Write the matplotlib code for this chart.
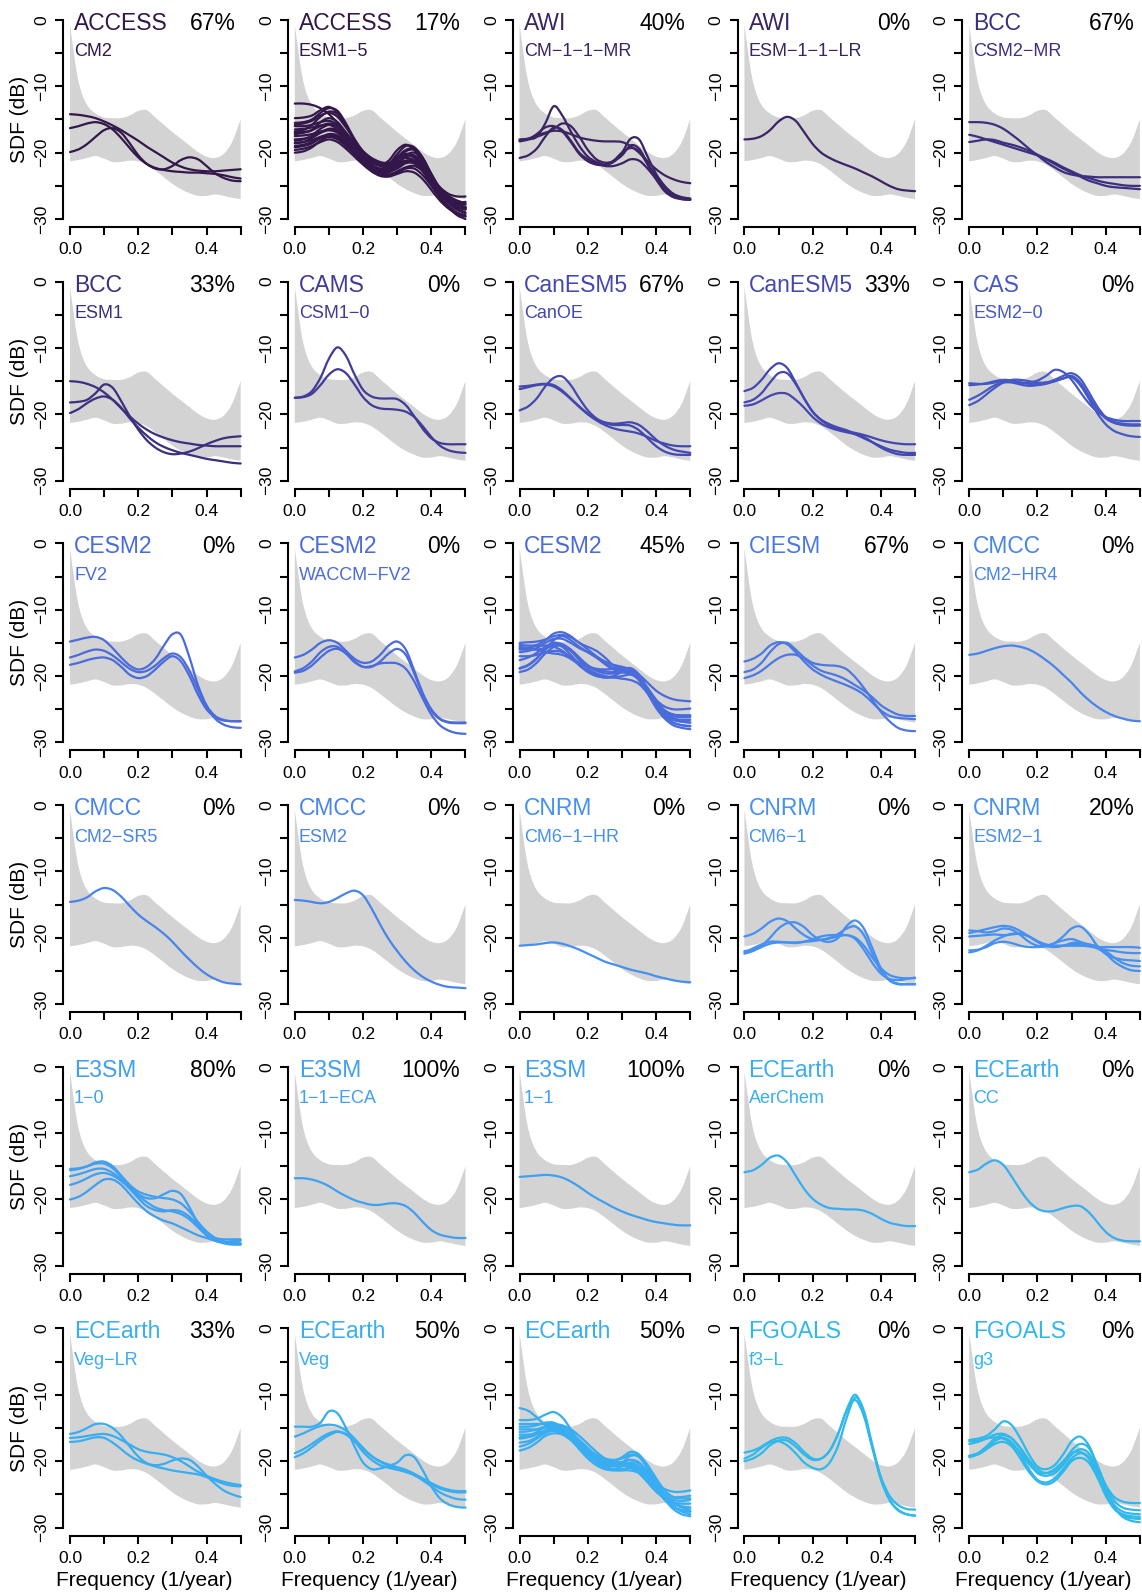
import numpy as np
import matplotlib as mpl
mpl.use('Agg')
import matplotlib.pyplot as plt
from matplotlib.path import Path
from matplotlib.patches import PathPatch

# spectral density (dB) of each run, sampled every 0.025 cycles/year
freq = np.linspace(0, 0.5, 21)

# observed envelope
band_upper_freq = [0, .01, .02, .03, .04, .05, .075, .1, .125, .15, .175, .2, .225,
                   .25, .275, .3, .325, .35, .375, .4, .425, .45, .475, .5]
band_upper = [-0.8, -4.5, -8.0, -10.3, -11.8, -12.8, -14.1, -14.7, -14.8, -14.8, -14.4, -13.7,
              -13.6, -14.7, -15.8, -16.9, -17.9, -18.9, -19.9, -20.6, -20.8, -20.2, -18.4, -15.0]
band_lower = [-21.3, -21.1, -20.8, -20.5, -20.9, -21.4, -21.4, -21.2, -21.3, -21.8, -22.7,
              -23.7, -24.7, -25.5, -26.1, -26.5, -26.5, -26.3, -26.5, -26.8, -27.0]

models = ["ACCESS", "ACCESS", "AWI", "AWI", "BCC",
          "BCC", "CAMS", "CanESM5", "CanESM5", "CAS",
          "CESM2", "CESM2", "CESM2", "CIESM", "CMCC",
          "CMCC", "CMCC", "CNRM", "CNRM", "CNRM",
          "E3SM", "E3SM", "E3SM", "ECEarth", "ECEarth",
          "ECEarth", "ECEarth", "ECEarth", "FGOALS", "FGOALS"]
variants = ["CM2", "ESM1\u22125", "CM\u22121\u22121\u2212MR", "ESM\u22121\u22121\u2212LR", "CSM2\u2212MR",
            "ESM1", "CSM1\u22120", "CanOE", "", "ESM2\u22120",
            "FV2", "WACCM\u2212FV2", "", "", "CM2\u2212HR4",
            "CM2\u2212SR5", "ESM2", "CM6\u22121\u2212HR", "CM6\u22121", "ESM2\u22121",
            "1\u22120", "1\u22121\u2212ECA", "1\u22121", "AerChem", "CC",
            "Veg\u2212LR", "Veg", "", "f3\u2212L", "g3"]
percents = [67, 17, 40, 0, 67,
            33, 0, 67, 33, 0,
            0, 0, 45, 67, 0,
            0, 0, 0, 0, 20,
            80, 100, 100, 0, 0,
            33, 50, 50, 0, 0]

family_colors = {
    "ACCESS": "#33174a", "AWI": "#3b2464", "BCC": "#3e2e80", "CAMS": "#403a98",
    "CanESM5": "#4347b0", "CAS": "#4658c6", "CESM2": "#4a6bdb", "CIESM": "#4b78e3",
    "CMCC": "#4884ec", "CNRM": "#4590f0", "E3SM": "#3f9ff2", "ECEarth": "#38adf2",
    "FGOALS": "#2fb8eb",
}

access_cm2 = [
    [-14.2, -14.3, -14.5, -14.8, -15.3, -15.9, -16.6, -17.4, -18.2, -19.1, -19.9, -20.7, -21.5, -22.1, -22.5, -22.7, -22.8, -22.8, -22.7, -22.6, -22.5],
    [-16.3, -16.0, -15.6, -15.4, -15.7, -16.5, -17.8, -19.3, -20.7, -21.7, -22.3, -22.6, -22.8, -22.9, -23.0, -23.0, -23.1, -23.2, -23.4, -23.7, -23.9],
    [-19.9, -19.5, -18.7, -17.6, -16.6, -16.3, -17.0, -18.6, -20.4, -21.7, -22.4, -22.5, -22.0, -21.1, -20.7, -21.0, -22.0, -23.1, -23.8, -24.2, -24.3],
]
access_esm1_5 = [
    [-12.6, -12.6, -12.8, -13.3, -14.2, -15.5, -17.0, -18.5, -19.8, -20.8, -21.4, -21.6, -21.4, -21.3, -21.6, -22.6, -24.0, -25.4, -26.5, -27.2, -27.6],
    [-14.8, -14.7, -14.4, -13.6, -13.1, -14.0, -16.0, -18.2, -20.0, -21.2, -21.8, -21.2, -19.6, -18.8, -19.6, -21.5, -23.5, -25.3, -26.6, -27.4, -27.8],
    [-15.5, -15.4, -15.0, -14.0, -13.3, -13.7, -15.6, -18.0, -20.0, -21.3, -21.8, -21.6, -20.6, -19.6, -19.4, -20.8, -23.2, -25.4, -26.9, -27.8, -28.2],
    [-16.0, -16.0, -15.8, -15.4, -15.2, -15.8, -17.2, -18.8, -20.3, -21.4, -22.0, -22.0, -21.4, -20.8, -21.2, -22.6, -24.4, -26.0, -27.2, -28.0, -28.5],
    [-16.5, -16.4, -16.2, -15.9, -15.8, -16.4, -17.6, -19.2, -20.8, -22.0, -22.6, -22.6, -22.0, -21.3, -21.4, -22.6, -24.4, -26.2, -27.6, -28.6, -29.1],
    [-17.0, -16.9, -16.6, -16.0, -15.6, -16.0, -17.4, -19.2, -20.9, -22.0, -22.5, -22.2, -21.0, -20.2, -20.6, -22.2, -24.2, -26.0, -27.4, -28.2, -28.6],
    [-17.5, -17.4, -17.2, -16.8, -16.6, -17.0, -18.2, -19.8, -21.4, -22.6, -23.2, -23.3, -22.8, -22.2, -22.0, -22.8, -24.6, -26.6, -28.2, -29.4, -30.0],
    [-18.0, -17.9, -17.6, -17.0, -16.6, -16.8, -17.8, -19.4, -21.0, -22.2, -22.8, -22.6, -21.6, -20.6, -20.4, -21.6, -23.8, -25.8, -27.0, -27.6, -27.8],
    [-18.5, -18.4, -18.1, -17.6, -17.3, -17.6, -18.6, -20.0, -21.5, -22.8, -23.4, -23.5, -23.0, -22.4, -22.4, -23.4, -25.0, -26.8, -28.2, -29.2, -29.6],
    [-19.0, -18.8, -18.4, -17.8, -17.6, -18.0, -19.0, -20.2, -21.4, -22.4, -22.8, -22.6, -21.6, -20.4, -20.0, -21.0, -23.2, -25.4, -27.0, -28.0, -28.4],
    [-19.6, -19.4, -19.0, -18.4, -18.0, -18.4, -19.4, -20.6, -21.8, -22.8, -23.5, -23.6, -23.2, -22.8, -23.0, -24.0, -25.6, -27.2, -28.4, -29.2, -29.6],
    [-20.0, -19.8, -19.2, -18.2, -17.6, -17.8, -18.8, -20.2, -21.6, -22.6, -23.2, -23.0, -22.2, -21.4, -21.4, -22.6, -24.6, -26.4, -27.4, -27.6, -27.4],
    [-16.8, -16.6, -15.8, -14.6, -13.8, -14.2, -16.0, -18.2, -20.2, -21.4, -21.9, -21.6, -20.8, -20.2, -20.5, -21.8, -23.6, -25.2, -26.2, -26.6, -26.6],
    [-18.2, -18.0, -17.4, -16.4, -15.8, -16.0, -17.2, -18.8, -20.6, -21.8, -22.4, -22.4, -21.8, -21.2, -21.2, -22.2, -24.0, -25.8, -27.2, -28.0, -28.2],
    [-17.2, -17.0, -16.6, -15.4, -14.8, -15.4, -17.0, -18.8, -20.6, -21.8, -22.4, -21.8, -20.2, -19.0, -19.2, -20.8, -23.4, -25.6, -27.0, -27.8, -28.2],
    [-19.2, -19.0, -18.6, -17.8, -17.2, -17.4, -18.4, -19.8, -21.2, -22.4, -23.0, -22.6, -21.0, -19.8, -19.6, -21.0, -23.6, -25.8, -27.2, -28.0, -28.4],
    [-15.8, -15.6, -15.2, -14.4, -14.0, -14.6, -16.2, -18.0, -19.8, -21.0, -21.6, -21.6, -21.0, -20.4, -20.8, -22.2, -24.2, -26.0, -27.4, -28.4, -29.0],
    [-18.6, -18.4, -17.8, -17.0, -16.4, -16.6, -17.6, -19.0, -20.6, -21.8, -22.6, -22.8, -22.4, -21.6, -21.6, -22.8, -24.8, -26.6, -28.0, -29.0, -29.4],
]
awi_cm = [
    [-18.1, -18.0, -17.6, -15.6, -13.0, -14.4, -16.8, -19.0, -20.6, -21.4, -21.8, -21.4, -20.0, -17.9, -18.0, -20.6, -23.2, -25.0, -26.2, -26.8, -27.0],
    [-18.0, -17.9, -17.6, -17.1, -16.4, -15.6, -16.0, -17.6, -19.6, -21.0, -21.5, -21.3, -20.4, -18.9, -19.4, -21.6, -23.6, -25.2, -26.2, -26.7, -26.9],
    [-20.8, -20.4, -19.4, -17.6, -16.2, -16.6, -18.2, -20.0, -21.0, -21.6, -22.0, -22.0, -21.6, -21.0, -21.2, -22.4, -24.0, -25.6, -26.5, -27.0, -27.1],
    [-18.2, -17.9, -17.4, -17.0, -16.7, -16.8, -17.2, -17.7, -18.0, -18.2, -18.3, -18.3, -18.4, -19.0, -20.0, -21.3, -22.5, -23.4, -24.0, -24.4, -24.6],
    [-18.3, -18.0, -17.2, -16.2, -16.0, -16.8, -18.4, -20.2, -21.3, -21.8, -21.8, -21.2, -20.0, -19.3, -19.8, -21.8, -24.0, -25.8, -26.7, -27.0, -27.1],
]
awi_esm = [
    [-18.0, -17.9, -17.5, -16.6, -15.3, -14.6, -15.2, -16.9, -18.7, -20.0, -20.8, -21.4, -21.9, -22.4, -23.0, -23.6, -24.3, -25.0, -25.5, -25.7, -25.8],
]
bcc_csm2 = [
    [-15.4, -15.4, -15.5, -15.8, -16.4, -17.3, -18.3, -19.4, -20.4, -21.4, -22.2, -22.9, -23.3, -23.5, -23.6, -23.7, -23.7, -23.7, -23.7, -23.7, -23.7],
    [-17.3, -17.6, -18.0, -18.4, -18.8, -19.2, -19.6, -20.0, -20.4, -20.9, -21.5, -22.2, -22.8, -23.4, -23.8, -24.2, -24.5, -24.7, -24.9, -25.0, -25.0],
    [-18.4, -18.2, -18.0, -18.1, -18.5, -18.8, -19.2, -19.7, -20.3, -21.0, -21.7, -22.4, -23.0, -23.6, -24.2, -24.6, -25.0, -25.2, -25.3, -25.4, -25.5],
]
bcc_esm1 = [
    [-15.0, -15.1, -15.4, -15.9, -16.7, -17.8, -19.1, -20.3, -21.4, -22.3, -23.0, -23.5, -23.9, -24.2, -24.4, -24.6, -24.7, -24.8, -24.8, -24.8, -24.8],
    [-18.2, -18.1, -17.8, -16.8, -15.5, -16.0, -18.0, -20.3, -22.3, -23.9, -25.0, -25.7, -26.0, -25.9, -25.6, -25.1, -24.5, -24.0, -23.6, -23.4, -23.3],
    [-19.8, -19.2, -18.3, -17.6, -17.3, -17.8, -19.0, -20.6, -22.0, -23.2, -24.2, -24.9, -25.4, -25.8, -26.1, -26.4, -26.7, -26.9, -27.1, -27.3, -27.4],
]
cams_csm1 = [
    [-17.5, -17.3, -16.5, -14.5, -11.6, -9.9, -11.2, -14.0, -16.3, -17.3, -17.6, -17.6, -17.7, -18.6, -20.3, -22.2, -23.6, -24.3, -24.5, -24.5, -24.5],
    [-17.5, -17.4, -16.9, -15.6, -14.0, -13.2, -13.8, -15.5, -17.4, -18.6, -19.1, -19.2, -19.3, -19.6, -20.4, -21.8, -23.4, -24.7, -25.4, -25.7, -25.8],
]
canesm5_canoe = [
    [-15.8, -15.7, -15.5, -15.4, -15.6, -16.4, -17.6, -18.8, -19.9, -20.7, -21.2, -21.4, -21.3, -21.2, -21.6, -22.6, -23.8, -24.7, -25.3, -25.6, -25.8],
    [-16.2, -15.9, -15.6, -15.5, -15.8, -16.6, -17.7, -18.9, -20.0, -20.9, -21.6, -22.1, -22.4, -22.6, -22.9, -23.4, -24.0, -24.4, -24.7, -24.8, -24.8],
    [-19.4, -18.8, -17.6, -15.8, -14.5, -14.3, -15.6, -17.6, -19.4, -20.6, -21.3, -21.6, -21.6, -21.7, -22.4, -23.6, -24.8, -25.6, -26.0, -26.1, -26.1],
]
canesm5 = [
    [-16.5, -16.0, -14.8, -13.2, -12.3, -13.0, -15.2, -17.6, -19.6, -20.9, -21.7, -22.2, -22.5, -22.8, -23.1, -23.5, -23.9, -24.2, -24.4, -24.5, -24.5],
    [-18.2, -17.8, -16.8, -15.2, -13.8, -13.8, -15.4, -17.6, -19.6, -20.8, -21.5, -22.0, -22.4, -23.0, -23.6, -24.2, -24.8, -25.3, -25.6, -25.8, -25.8],
    [-18.7, -18.5, -17.9, -17.2, -16.8, -16.9, -17.8, -19.0, -20.4, -21.4, -22.0, -22.4, -22.7, -23.0, -23.4, -24.2, -25.0, -25.6, -26.0, -26.1, -26.1],
]
cas_esm2 = [
    [-15.3, -15.4, -15.4, -15.2, -15.0, -15.0, -15.2, -15.2, -14.9, -14.2, -13.3, -13.6, -14.8, -16.6, -18.3, -19.6, -20.4, -20.8, -21.0, -21.0, -21.0],
    [-15.6, -15.5, -15.3, -15.0, -14.8, -14.9, -15.2, -15.4, -15.4, -15.2, -14.8, -14.2, -13.8, -14.6, -16.6, -18.8, -20.4, -21.1, -21.4, -21.5, -21.5],
    [-17.8, -17.2, -16.4, -15.6, -15.2, -15.2, -15.5, -15.7, -15.6, -15.4, -15.0, -14.6, -14.4, -15.6, -17.6, -19.8, -21.5, -22.5, -23.0, -23.3, -23.4],
    [-18.6, -18.0, -17.0, -16.0, -15.2, -14.8, -14.8, -15.0, -15.2, -15.2, -15.0, -14.6, -14.2, -15.2, -17.2, -19.2, -20.6, -21.3, -21.6, -21.7, -21.7],
]
cesm2_fv2 = [
    [-14.8, -14.5, -14.2, -14.1, -14.6, -15.8, -17.2, -18.4, -19.0, -18.6, -17.4, -15.4, -13.7, -13.8, -17.2, -21.4, -24.4, -26.0, -26.6, -26.8, -26.8],
    [-17.2, -16.8, -16.3, -16.0, -16.2, -16.9, -17.9, -18.9, -19.4, -19.2, -18.4, -17.3, -16.6, -17.2, -19.2, -22.0, -24.6, -26.4, -27.3, -27.7, -27.8],
    [-18.3, -18.0, -17.6, -17.3, -17.2, -17.6, -18.6, -19.8, -20.3, -20.0, -19.0, -17.8, -17.0, -17.8, -20.0, -22.8, -25.0, -26.2, -26.7, -26.8, -26.8],
]
cesm2_waccm_fv2 = [
    [-17.2, -16.8, -16.0, -15.0, -14.6, -15.0, -16.2, -17.4, -18.0, -17.8, -16.8, -15.4, -14.8, -16.0, -19.2, -22.6, -25.0, -26.4, -26.9, -27.0, -27.0],
    [-19.3, -18.8, -17.8, -16.4, -15.6, -15.6, -16.6, -17.9, -18.6, -18.5, -18.1, -18.0, -18.1, -18.9, -20.8, -23.4, -25.8, -27.4, -28.2, -28.6, -28.7],
    [-19.5, -19.2, -18.4, -17.2, -16.2, -15.9, -16.6, -17.8, -18.6, -18.6, -17.8, -16.6, -15.9, -16.8, -19.6, -22.8, -25.2, -26.5, -27.0, -27.1, -27.1],
]
cesm2 = [
    [-15.0, -14.9, -14.8, -14.5, -14.0, -13.8, -14.2, -15.0, -16.0, -17.0, -17.8, -18.3, -18.6, -19.0, -19.8, -21.0, -22.2, -23.0, -23.5, -23.7, -23.8],
    [-15.3, -15.4, -15.3, -14.6, -13.6, -13.4, -14.0, -15.0, -15.6, -16.2, -17.2, -18.4, -19.0, -19.4, -20.4, -22.0, -23.6, -24.6, -25.0, -25.0, -24.9],
    [-15.8, -15.7, -15.5, -15.4, -15.6, -16.2, -17.2, -18.0, -18.6, -18.9, -19.0, -18.9, -18.8, -19.2, -20.4, -22.2, -24.0, -25.2, -25.8, -26.0, -26.0],
    [-16.4, -16.2, -15.8, -15.0, -14.4, -14.4, -15.0, -15.8, -16.4, -17.2, -18.2, -19.0, -19.4, -19.6, -20.4, -22.0, -24.0, -25.6, -26.4, -26.6, -26.6],
    [-15.6, -15.8, -16.0, -16.4, -16.6, -16.8, -17.4, -18.3, -19.2, -19.8, -20.2, -20.2, -20.0, -19.8, -20.4, -21.8, -23.6, -25.2, -26.2, -26.8, -27.0],
    [-17.6, -17.2, -16.5, -15.6, -15.0, -15.2, -16.0, -17.2, -18.4, -19.2, -19.6, -19.6, -19.4, -19.6, -20.6, -22.4, -24.4, -26.0, -27.0, -27.4, -27.5],
    [-18.9, -18.4, -17.4, -16.0, -14.6, -14.0, -14.6, -15.6, -16.4, -17.2, -18.0, -18.8, -19.2, -19.6, -20.6, -22.6, -24.8, -26.4, -27.4, -27.8, -28.0],
    [-19.4, -19.0, -18.0, -16.6, -15.6, -15.4, -16.2, -17.6, -18.8, -19.6, -20.0, -20.2, -20.4, -20.6, -21.2, -22.6, -24.4, -26.0, -27.0, -27.4, -27.6],
    [-18.8, -18.3, -17.3, -16.0, -15.2, -15.6, -16.8, -18.2, -19.2, -19.8, -20.2, -20.0, -19.2, -18.8, -19.8, -22.0, -24.2, -25.8, -26.6, -26.9, -27.0],
    [-16.0, -16.0, -16.0, -15.8, -15.4, -15.4, -16.2, -17.4, -18.4, -19.0, -19.3, -19.4, -19.4, -19.6, -20.6, -22.4, -24.2, -25.4, -26.0, -26.2, -26.2],
    [-17.0, -17.0, -16.8, -16.4, -16.2, -16.4, -17.2, -18.4, -19.4, -20.0, -20.2, -20.0, -19.4, -19.2, -20.0, -21.8, -23.8, -25.2, -25.8, -25.9, -25.9],
]
ciesm = [
    [-17.8, -17.4, -16.6, -15.4, -14.9, -15.2, -16.4, -17.8, -19.0, -19.8, -20.4, -20.9, -21.4, -22.0, -22.8, -24.0, -25.2, -26.0, -26.3, -26.4, -26.5],
    [-19.4, -19.0, -18.0, -16.4, -15.2, -15.0, -16.0, -17.2, -18.0, -18.3, -18.4, -18.5, -19.0, -20.2, -21.8, -23.6, -25.4, -26.8, -27.8, -28.2, -28.3],
    [-20.3, -19.9, -19.2, -18.2, -17.3, -16.8, -16.8, -17.4, -18.4, -19.2, -19.6, -20.0, -20.6, -21.4, -22.2, -23.2, -24.4, -25.2, -25.8, -26.0, -26.0],
]
cmcc_cm2_hr4 = [
    [-16.8, -16.6, -16.2, -15.8, -15.5, -15.4, -15.6, -16.0, -16.7, -17.6, -18.6, -19.8, -21.0, -22.4, -23.6, -24.6, -25.4, -26.0, -26.4, -26.7, -26.8],
]
cmcc_cm2_sr5 = [
    [-14.6, -14.4, -13.9, -13.0, -12.5, -12.8, -13.8, -15.2, -16.5, -17.5, -18.4, -19.4, -20.6, -22.0, -23.3, -24.5, -25.5, -26.2, -26.7, -26.9, -27.0],
]
cmcc_esm2 = [
    [-14.3, -14.4, -14.6, -14.8, -14.6, -14.0, -13.3, -12.9, -13.6, -15.6, -18.0, -20.2, -22.0, -23.6, -24.9, -25.9, -26.6, -27.1, -27.4, -27.5, -27.6],
]
cnrm_cm6_1_hr = [
    [-21.2, -21.1, -21.0, -20.8, -20.7, -20.9, -21.3, -21.8, -22.4, -23.0, -23.6, -24.0, -24.4, -24.8, -25.1, -25.4, -25.8, -26.1, -26.4, -26.6, -26.7],
]
cnrm_cm6_1 = [
    [-19.8, -19.4, -18.6, -17.6, -17.1, -17.5, -18.6, -19.6, -20.2, -20.3, -20.1, -19.8, -19.6, -20.2, -21.8, -23.8, -25.4, -26.2, -26.4, -26.2, -26.0],
    [-22.0, -21.8, -21.2, -20.0, -18.6, -17.8, -17.7, -18.4, -19.6, -20.4, -20.6, -20.0, -18.2, -17.4, -18.6, -21.6, -24.6, -26.4, -27.0, -27.0, -27.0],
    [-22.4, -22.0, -21.4, -20.9, -20.7, -20.7, -20.7, -20.6, -20.5, -20.3, -20.0, -19.4, -18.6, -18.3, -19.6, -22.4, -25.0, -26.4, -26.9, -27.0, -27.0],
    [-22.2, -21.6, -21.0, -20.6, -20.6, -20.7, -20.8, -20.6, -20.2, -19.8, -19.6, -19.6, -19.6, -20.0, -21.2, -23.0, -24.6, -25.6, -26.0, -26.1, -26.1],
]
cnrm_esm2_1 = [
    [-18.9, -19.0, -19.2, -19.0, -18.6, -18.8, -19.6, -20.6, -21.2, -21.2, -20.8, -20.4, -20.2, -20.6, -21.2, -21.4, -21.4, -21.4, -21.4, -21.4, -21.5],
    [-19.3, -19.0, -18.7, -18.4, -18.2, -18.4, -19.0, -19.8, -20.6, -21.2, -21.4, -21.2, -20.8, -20.7, -21.0, -21.4, -21.8, -22.0, -22.2, -22.3, -22.3],
    [-19.8, -19.7, -19.6, -19.5, -19.6, -19.5, -19.4, -19.8, -20.6, -21.2, -20.8, -19.8, -18.6, -18.3, -19.4, -21.2, -22.4, -23.0, -23.3, -23.4, -23.5],
    [-22.2, -21.9, -21.2, -20.4, -19.8, -19.4, -19.4, -19.8, -20.5, -21.0, -21.2, -21.2, -21.0, -20.9, -21.0, -21.3, -22.0, -23.0, -23.8, -24.2, -24.3],
    [-21.9, -21.8, -21.4, -20.8, -20.6, -20.8, -21.2, -21.4, -21.4, -21.3, -21.2, -21.2, -21.2, -21.2, -21.3, -21.6, -22.4, -23.6, -24.4, -24.9, -25.0],
]
e3sm_1_0 = [
    [-15.4, -15.3, -15.0, -14.6, -14.6, -15.3, -16.6, -18.0, -19.2, -19.8, -19.8, -19.2, -18.7, -19.2, -21.2, -23.6, -25.4, -26.2, -26.4, -26.3, -26.2],
    [-15.6, -15.4, -15.0, -14.4, -14.3, -15.0, -16.4, -17.8, -18.8, -19.3, -19.6, -19.8, -20.0, -20.6, -21.8, -23.4, -24.8, -25.8, -26.3, -26.5, -26.6],
    [-16.5, -16.2, -15.8, -15.4, -15.4, -16.0, -17.0, -18.2, -19.4, -20.4, -21.2, -21.6, -21.8, -22.2, -23.0, -24.2, -25.4, -26.2, -26.6, -26.8, -26.8],
    [-17.8, -17.4, -16.8, -16.2, -16.0, -16.4, -17.2, -18.4, -19.8, -21.0, -21.6, -21.8, -21.6, -21.8, -22.6, -23.8, -25.0, -25.8, -26.0, -26.0, -26.0],
    [-20.0, -19.6, -18.8, -17.8, -17.0, -17.0, -17.8, -19.2, -20.6, -21.8, -22.6, -23.2, -23.6, -24.2, -24.8, -25.4, -25.8, -26.2, -26.4, -26.6, -26.7],
]
e3sm_1_1_eca = [
    [-16.8, -16.8, -17.0, -17.4, -18.0, -18.8, -19.5, -20.1, -20.5, -20.8, -20.8, -20.6, -20.6, -21.0, -22.0, -23.4, -24.6, -25.3, -25.6, -25.8, -25.8],
]
e3sm_1_1 = [
    [-16.6, -16.5, -16.4, -16.3, -16.4, -16.7, -17.3, -18.1, -19.0, -19.8, -20.5, -21.2, -21.8, -22.3, -22.7, -23.1, -23.4, -23.6, -23.8, -23.9, -23.9],
]
ecearth_aerchem = [
    [-15.9, -15.6, -14.8, -13.7, -13.4, -14.4, -16.4, -18.4, -19.9, -20.8, -21.3, -21.4, -21.5, -21.5, -21.7, -22.2, -22.9, -23.5, -23.8, -24.0, -24.0],
]
ecearth_cc = [
    [-15.9, -15.5, -14.6, -14.1, -14.8, -16.6, -18.6, -20.3, -21.4, -21.8, -21.7, -21.3, -21.0, -21.0, -21.9, -23.4, -24.9, -25.8, -26.2, -26.3, -26.3],
]
ecearth_veg_lr = [
    [-15.9, -15.6, -15.0, -14.4, -14.4, -15.0, -16.2, -17.8, -19.3, -20.3, -20.6, -20.4, -19.9, -19.6, -19.8, -20.8, -22.2, -23.4, -24.4, -25.0, -25.4],
    [-16.5, -16.4, -16.2, -16.0, -15.9, -16.2, -16.8, -17.5, -18.2, -18.6, -18.8, -19.0, -19.4, -20.0, -20.8, -21.6, -22.2, -22.7, -23.1, -23.4, -23.6],
    [-17.1, -17.0, -16.7, -16.4, -16.5, -17.2, -18.2, -19.2, -19.9, -20.4, -20.8, -21.1, -21.4, -21.6, -21.8, -22.0, -22.4, -22.9, -23.4, -23.7, -23.8],
]
ecearth_veg = [
    [-14.8, -14.8, -14.8, -14.2, -12.5, -12.8, -15.0, -17.8, -20.2, -21.2, -21.1, -20.7, -20.2, -19.1, -19.4, -21.4, -23.8, -25.6, -26.5, -26.9, -27.0],
    [-16.3, -15.8, -15.2, -14.7, -14.5, -14.7, -15.4, -16.6, -18.0, -19.2, -20.0, -20.5, -20.9, -21.3, -21.9, -22.6, -23.3, -23.9, -24.3, -24.5, -24.5],
    [-18.8, -18.2, -17.4, -16.5, -15.8, -15.5, -16.0, -17.0, -18.2, -19.3, -20.1, -20.7, -21.2, -21.6, -22.1, -22.8, -23.5, -24.1, -24.5, -24.7, -24.7],
    [-19.4, -18.8, -17.9, -16.9, -16.1, -15.6, -15.9, -17.0, -18.6, -19.8, -20.6, -21.0, -21.3, -21.6, -22.1, -22.9, -23.8, -24.7, -25.3, -25.7, -25.8],
]
ecearth = [
    [-12.0, -12.4, -13.4, -14.6, -15.4, -15.8, -16.6, -17.6, -18.6, -19.4, -19.8, -20.0, -20.2, -20.8, -21.8, -23.2, -24.6, -25.6, -26.2, -26.4, -26.4],
    [-13.8, -13.8, -13.6, -13.0, -12.6, -13.4, -15.2, -17.2, -18.8, -19.8, -20.2, -20.0, -19.4, -18.6, -19.0, -20.8, -23.0, -25.0, -26.2, -26.8, -27.0],
    [-14.4, -14.4, -14.4, -14.4, -14.4, -14.6, -15.2, -16.2, -17.4, -18.6, -19.6, -20.2, -20.4, -20.6, -21.2, -22.2, -23.4, -24.2, -24.6, -24.6, -24.4],
    [-14.8, -14.8, -14.6, -14.2, -14.2, -15.0, -16.4, -17.8, -19.0, -19.8, -20.4, -20.6, -20.2, -19.2, -19.4, -21.2, -23.4, -25.4, -26.8, -27.6, -28.0],
    [-15.2, -15.2, -15.2, -15.0, -14.8, -15.2, -16.0, -17.2, -18.4, -19.4, -20.0, -20.2, -20.2, -20.4, -21.0, -22.4, -24.0, -25.2, -25.8, -26.0, -25.8],
    [-15.6, -15.5, -15.2, -14.8, -14.6, -14.8, -15.6, -16.8, -18.0, -19.2, -20.0, -20.4, -20.6, -21.0, -21.8, -23.0, -24.4, -25.8, -26.8, -27.4, -27.6],
    [-16.0, -16.0, -15.8, -15.4, -15.2, -15.6, -16.6, -18.0, -19.4, -20.4, -21.0, -21.2, -20.8, -20.2, -20.4, -21.6, -23.4, -25.0, -26.2, -27.0, -27.4],
    [-16.6, -16.4, -16.0, -15.4, -15.0, -15.2, -16.0, -17.4, -18.8, -20.0, -20.8, -21.2, -21.2, -21.0, -21.4, -22.6, -24.2, -25.8, -27.2, -28.0, -28.3],
    [-17.2, -17.0, -16.4, -15.6, -15.2, -15.4, -16.2, -17.2, -18.2, -19.0, -19.6, -19.8, -19.6, -19.0, -19.2, -20.6, -22.6, -24.4, -25.4, -25.6, -25.6],
    [-17.8, -17.4, -16.6, -15.8, -15.4, -15.8, -16.8, -18.2, -19.6, -20.6, -21.2, -21.4, -21.4, -21.4, -21.8, -22.8, -24.2, -25.4, -26.4, -26.9, -27.0],
    [-18.4, -18.0, -17.2, -16.2, -15.8, -16.0, -16.8, -17.8, -18.8, -19.6, -20.2, -20.4, -20.2, -19.8, -20.2, -21.8, -23.8, -25.6, -26.8, -27.4, -27.6],
    [-16.4, -16.2, -15.6, -14.8, -14.4, -15.0, -16.2, -17.6, -19.0, -20.0, -20.6, -20.8, -20.6, -20.4, -20.8, -22.0, -23.6, -24.8, -25.4, -25.4, -25.2],
]
fgoals_f3_l = [
    [-18.7, -18.4, -17.8, -17.0, -16.5, -16.5, -17.3, -18.6, -19.6, -19.6, -18.4, -15.8, -12.2, -10.0, -12.8, -18.0, -22.8, -25.8, -27.3, -28.0, -28.2],
    [-19.6, -19.0, -18.0, -17.2, -17.0, -17.6, -18.8, -20.2, -21.0, -21.2, -20.2, -17.6, -13.4, -10.4, -12.4, -17.6, -22.6, -25.8, -27.4, -28.0, -28.2],
    [-20.0, -19.6, -18.8, -17.6, -16.9, -16.9, -17.8, -19.0, -19.8, -19.6, -18.4, -15.8, -12.4, -10.8, -13.2, -18.0, -22.4, -25.2, -26.6, -27.2, -27.3],
]
fgoals_g3 = [
    [-16.8, -16.6, -16.2, -15.2, -14.0, -14.6, -16.6, -19.0, -20.8, -21.2, -20.6, -19.0, -17.0, -16.3, -17.6, -20.6, -23.6, -25.4, -26.1, -26.3, -26.3],
    [-17.4, -17.1, -16.6, -16.0, -15.9, -16.6, -18.0, -19.8, -21.2, -21.8, -21.4, -20.2, -18.4, -17.4, -18.0, -20.6, -23.8, -26.0, -27.0, -27.3, -27.4],
    [-19.2, -18.8, -17.8, -16.6, -16.1, -16.6, -18.2, -20.2, -21.8, -22.2, -21.8, -20.6, -19.0, -18.2, -18.8, -21.2, -24.4, -26.6, -27.6, -27.9, -28.0],
    [-19.4, -19.0, -18.2, -17.0, -16.5, -17.2, -19.0, -21.2, -22.8, -23.2, -22.6, -21.2, -19.6, -18.8, -19.4, -21.8, -24.8, -27.0, -28.2, -28.6, -28.7],
    [-17.0, -16.9, -16.6, -16.4, -16.6, -17.4, -18.8, -20.4, -21.6, -21.8, -21.2, -20.0, -18.8, -18.6, -19.6, -22.0, -24.8, -27.0, -28.4, -29.0, -29.2],
    [-19.2, -18.9, -18.2, -17.4, -17.1, -17.8, -19.6, -21.6, -23.0, -23.5, -23.0, -21.6, -20.0, -19.5, -20.2, -22.4, -25.2, -27.2, -28.0, -28.3, -28.4],
]

panel_curves = [access_cm2, access_esm1_5, awi_cm, awi_esm, bcc_csm2,
                bcc_esm1, cams_csm1, canesm5_canoe, canesm5, cas_esm2,
                cesm2_fv2, cesm2_waccm_fv2, cesm2, ciesm, cmcc_cm2_hr4,
                cmcc_cm2_sr5, cmcc_esm2, cnrm_cm6_1_hr, cnrm_cm6_1, cnrm_esm2_1,
                e3sm_1_0, e3sm_1_1_eca, e3sm_1_1, ecearth_aerchem, ecearth_cc,
                ecearth_veg_lr, ecearth_veg, ecearth, fgoals_f3_l, fgoals_g3]

for name, runs in zip(models, panel_curves):
    for run in runs:
        assert len(run) == len(freq), (name, len(run))


def smooth(x, y):
    # cubic Hermite pieces written as Bezier segments
    x = np.asarray(x, float)
    y = np.asarray(y, float)
    m = np.gradient(y, x)
    verts = [(x[0], y[0])]
    codes = [Path.MOVETO]
    for i in range(len(x) - 1):
        h = x[i + 1] - x[i]
        verts += [(x[i] + h / 3, y[i] + m[i] * h / 3),
                  (x[i + 1] - h / 3, y[i + 1] - m[i + 1] * h / 3),
                  (x[i + 1], y[i + 1])]
        codes += [Path.CURVE4] * 3
    return verts, codes


plt.rcParams.update({
    "font.family": ["Liberation Sans", "DejaVu Sans"],
    "axes.linewidth": 1.5,
    "xtick.major.width": 1.5,
    "ytick.major.width": 1.5,
    "xtick.major.size": 6,
    "ytick.major.size": 6,
    "xtick.labelsize": 12.5,
    "ytick.labelsize": 12.5,
    "xtick.major.pad": 5,
    "ytick.major.pad": 4,
})

W, H = 1142, 1592
fig = plt.figure(figsize=(W / 100, H / 100), dpi=100)

up_v, up_c = smooth(band_upper_freq, band_upper)
lo_v, lo_c = smooth(freq[::-1], band_lower[::-1])
lo_c[0] = Path.LINETO
band_path = Path(up_v + lo_v + [up_v[0]], up_c + lo_c + [Path.CLOSEPOLY])

for k, (model, variant, pct, runs) in enumerate(zip(models, variants, percents, panel_curves)):
    r, c = divmod(k, 5)
    left = 63.2 + c * 224.8
    top = 12 + r * 261.7
    ax = fig.add_axes([left / W, 1 - (top + 215) / H, 184.3 / W, 215 / H])
    ax.set_xlim(-0.02, 0.52)
    ax.set_ylim(-31.2, 1.2)
    color = family_colors[model]

    ax.add_patch(PathPatch(band_path, facecolor="#d3d3d3", edgecolor="none", zorder=1))
    for run in runs:
        v, cd = smooth(freq, run)
        ax.add_patch(PathPatch(Path(v, cd), facecolor="none", edgecolor=color,
                               lw=1.6, zorder=2, capstyle="round"))

    ax.text(0.012, -1.5, model, color=color, fontsize=16.5, ha="left", va="baseline")
    ax.text(0.485, -1.5, f"{pct}%", color="black", fontsize=16.5, ha="right", va="baseline")
    if variant:
        ax.text(0.012, -5.5, variant, color=color, fontsize=13, ha="left", va="baseline")

    ax.spines[["top", "right"]].set_visible(False)
    ax.spines["left"].set_bounds(-30, 0)
    ax.spines["bottom"].set_bounds(0, 0.5)
    ax.set_xticks(np.arange(0, 0.51, 0.1))
    ax.set_xticklabels(["0.0", "", "0.2", "", "0.4", ""])
    ax.set_yticks(np.arange(-30, 1, 5))
    ax.set_yticklabels(["\u221230", "", "\u221220", "", "\u221210", "", "0"],
                       rotation=90, va="center")
    if c == 0:
        ax.set_ylabel("SDF (dB)", fontsize=15, labelpad=4)
    if r == 5:
        ax.set_xlabel("Frequency (1/year)", fontsize=15)
        ax.xaxis.set_label_coords(0.44, -0.165)

fig.savefig("out.png", dpi=100)
